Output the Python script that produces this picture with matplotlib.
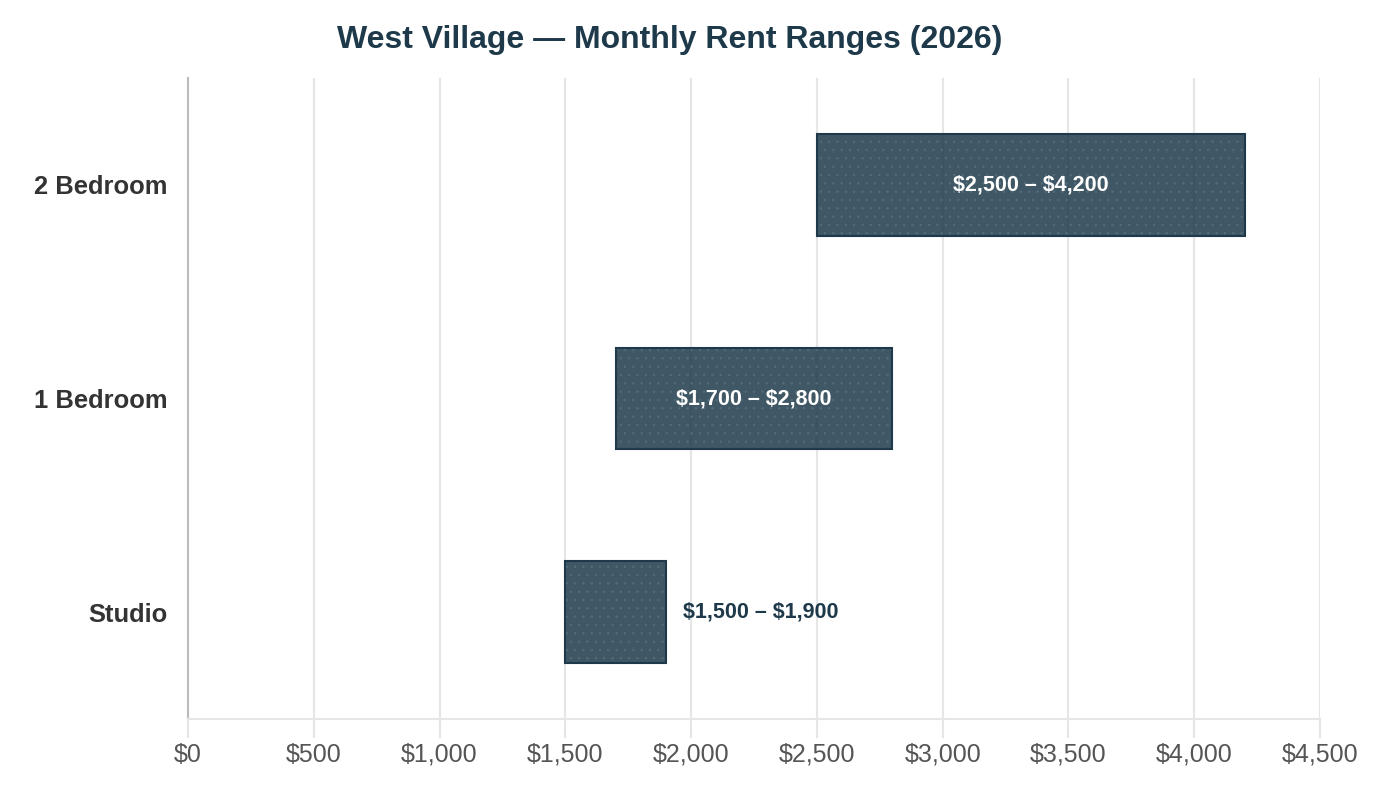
import matplotlib
matplotlib.use("Agg")
import matplotlib.pyplot as plt
from matplotlib.ticker import FuncFormatter

plt.rcParams['font.family'] = ['Liberation Sans', 'DejaVu Sans']
plt.rcParams['hatch.linewidth'] = 0.5

# data
units = ['Studio', '1 Bedroom', '2 Bedroom']
rent_low = [1500, 1700, 2500]
rent_high = [1900, 2800, 4200]
x_ticks = [0, 500, 1000, 1500, 2000, 2500, 3000, 3500, 4000, 4500]

navy = '#1e3a4a'
fill = (0x1e / 255, 0x3a / 255, 0x4a / 255, 0.85)

fig = plt.figure(figsize=(14, 8), dpi=100)
ax = fig.add_axes([188 / 1400, 1 - 719 / 800, (1320 - 188) / 1400, (719 - 78) / 800])

ypos = list(range(len(units)))
widths = [h - l for l, h in zip(rent_low, rent_high)]

ax.barh(ypos, widths, left=rent_low, height=0.475, color=fill,
        edgecolor='#526d7a', linewidth=0, hatch='..', zorder=2)
ax.barh(ypos, widths, left=rent_low, height=0.475, fill=False,
        edgecolor=navy, linewidth=1.5, zorder=3)

for y, lo, hi in zip(ypos, rent_low, rent_high):
    label = f"${lo:,} \u2013 ${hi:,}"
    if hi - lo >= 800:
        ax.text((lo + hi) / 2, y, label, ha='center', va='center', parse_math=False,
                color='white', fontsize=15.5, fontweight='bold', zorder=4)
    else:
        ax.annotate(label, (hi, y), xytext=(12, 0), textcoords='offset points',
                    ha='left', va='center', color=navy, fontsize=15.5,
                    fontweight='bold', zorder=4, parse_math=False)

ax.set_xlim(0, 4500)
ax.set_ylim(-0.5, 2.5)
ax.set_xticks(x_ticks)
ax.xaxis.set_major_formatter(FuncFormatter(lambda v, p: f"\\${int(v):,}"))
ax.set_yticks(ypos)
ax.set_yticklabels(units, fontsize=18.4, fontweight='bold', color='#333333')

ax.grid(axis='x', color='#e6e6e6', linewidth=1.5, zorder=0)
ax.set_axisbelow(True)
ax.tick_params(axis='x', length=14, width=1.5, color='#e6e6e6', labelsize=18,
               labelcolor='#555555', pad=3)
ax.tick_params(axis='y', length=0, pad=15)
ax.xaxis.get_major_ticks()[0].tick1line.set_color('#bbbbbb')

for side in ['top', 'right']:
    ax.spines[side].set_visible(False)
ax.spines['left'].set_color('#bbbbbb')
ax.spines['left'].set_linewidth(1.5)
ax.spines['bottom'].set_color('#e6e6e6')
ax.spines['bottom'].set_linewidth(1.5)

fig.text(670 / 1400, 1 - 40 / 800, 'West Village \u2014 Monthly Rent Ranges (2026)',
         ha='center', va='center', fontsize=23, fontweight='bold', color=navy)

fig.savefig('out.png', dpi=100, facecolor='white')
